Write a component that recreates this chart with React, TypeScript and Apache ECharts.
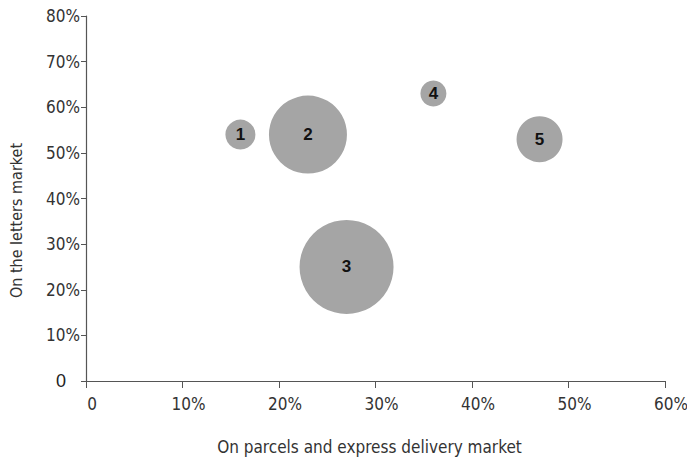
import React, { useEffect, useRef } from "react";
import * as echarts from "echarts";

const companies = ["1", "2", "3", "4", "5"];
const parcelShare = [16, 23, 27, 36, 47];
const letterShare = [54, 54, 25, 63, 53];
const bubbleSize = [30, 78, 94, 26, 46];
const xTicks = [0, 10, 20, 30, 40, 50, 60];
const yTicks = [0, 10, 20, 30, 40, 50, 60, 70, 80];

const FONT = "'DejaVu Sans Condensed', 'DejaVu Sans', sans-serif";

export default function App() {
  const ref = useRef<HTMLDivElement>(null);
  useEffect(() => {
    if (!ref.current) return;
    const chart = echarts.init(ref.current, null, { renderer: "svg" });
    const data = companies.map((c, i) => [parcelShare[i], letterShare[i], bubbleSize[i], c]);
    chart.setOption({
      animation: false,
      grid: { left: 86, top: 16, right: 22, bottom: 79, outerBoundsMode: "none", containLabel: false },
      xAxis: {
        type: "value",
        min: xTicks[0],
        max: xTicks[xTicks.length - 1],
        interval: 10,
        name: "On parcels and express delivery market",
        nameLocation: "middle",
        nameGap: 57,
        nameTextStyle: { fontFamily: FONT, fontSize: 17, color: "#333", padding: [0, 12, 0, 0] },
        axisLine: { show: true, lineStyle: { color: "#555", width: 1.2 } },
        axisTick: { show: true, length: 7, inside: false, lineStyle: { color: "#555" } },
        splitLine: { show: false },
        axisLabel: {
          fontFamily: FONT,
          fontSize: 17,
          color: "#333",
          margin: 14,
          padding: [0, 0, 0, 12],
          formatter: (v: number) => (v === 0 ? "0" : v + "%"),
        },
      },
      yAxis: {
        type: "value",
        min: yTicks[0],
        max: yTicks[yTicks.length - 1],
        interval: 10,
        name: "On the letters market",
        nameLocation: "middle",
        nameGap: 62,
        nameRotate: 90,
        nameTextStyle: { fontFamily: FONT, fontSize: 16, color: "#333", padding: [0, 44, 0, 0] },
        axisLine: { show: true, lineStyle: { color: "#555", width: 1.2 } },
        axisTick: { show: true, length: 5, inside: false, lineStyle: { color: "#555" } },
        splitLine: { show: false },
        axisLabel: {
          fontFamily: FONT,
          fontSize: 17,
          color: "#333",
          margin: 6,
          formatter: (v: number) => (v === 0 ? "{z|0}" : v + "%"),
          rich: {
            z: { fontFamily: "'Liberation Sans', Arial, sans-serif", fontSize: 18, color: "#222", padding: [0, 14, 0, 0] },
          },
        },
      },
      series: [
        {
          type: "scatter",
          data,
          symbolSize: (v: any[]) => v[2],
          itemStyle: { color: "#a5a5a5", opacity: 1 },
          label: {
            show: true,
            position: "inside",
            formatter: (p: any) => p.value[3],
            fontFamily: "'Liberation Sans', Arial, sans-serif",
            fontWeight: "bold",
            fontSize: 17,
            color: "#111",
          },
        },
      ],
    });
    return () => chart.dispose();
  }, []);
  return <div ref={ref} style={{ width: 687, height: 460, position: "absolute", left: 0, top: 0 }} />;
}
